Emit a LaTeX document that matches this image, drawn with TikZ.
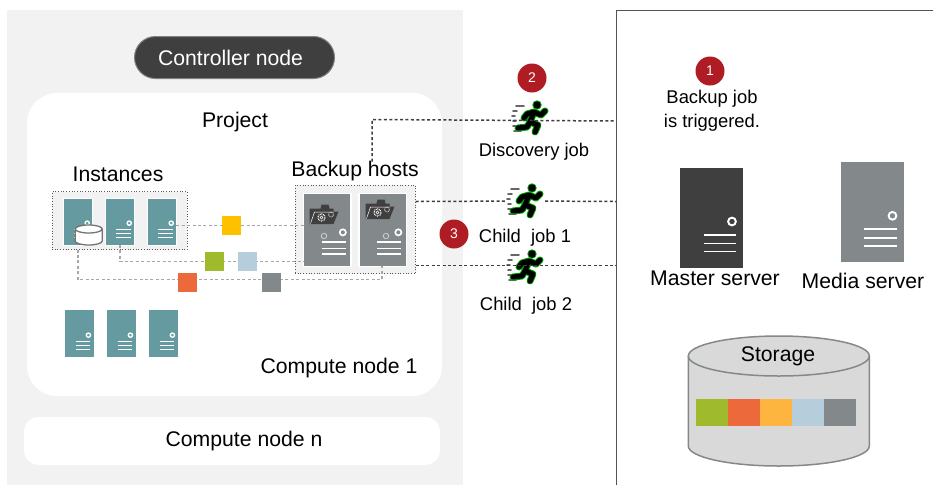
\documentclass[tikz,border=0pt]{standalone}
\usepackage{fontspec}
\setmainfont{Liberation Sans}
\usetikzlibrary{calc,positioning,shapes.misc}
\definecolor{panelgray}{HTML}{F2F2F2}
\definecolor{darkbox}{HTML}{3F3F3F}
\definecolor{hostgray}{HTML}{83898B}
\definecolor{tealbox}{HTML}{659BA0}
\definecolor{linkgray}{HTML}{A6A6A6}
\definecolor{badgered}{HTML}{B01C24}
\definecolor{amberbox}{HTML}{FFC000}
\definecolor{orangebar}{HTML}{FDB53F}
\definecolor{greenbox}{HTML}{9FBA2C}
\definecolor{redbox}{HTML}{EC693B}
\definecolor{bluebox}{HTML}{B6CEDC}
\tikzset{
  txt/.style={inner sep=0pt, outer sep=0pt, align=center, font=\fontsize{21.2}{24}\selectfont},
  smalltxt/.style={txt, font=\fontsize{18.4}{24}\selectfont},
  srv/.style n args={3}{rectangle, inner sep=0pt, outer sep=0pt, minimum width=#1pt, minimum height=#2pt, fill=#3,
    path picture={
      \begin{scope}[x=#1pt, y=#2pt, draw=white, line width={0.9pt+0.016*#1pt}]
        \draw (.325,-.035) circle[radius={0.6pt+0.052*#1pt}];
        \draw (-.12,-.17) -- (.39,-.17);
        \draw (-.12,-.255) -- (.39,-.255);
        \draw (-.12,-.335) -- (.39,-.335);
      \end{scope}}},
  inst/.style={srv={29}{47}{tealbox}, draw=white, line width=1pt},
  host/.style={srv={47.5}{73}{hostgray}, draw=white, line width=1.4pt},
  bigsrv/.style={srv={63}{100}{#1}},
  dotbox/.style={draw=black!65, dotted, fill=panelgray, line width=0.7pt, inner sep=0pt, outer sep=0pt},
  chunk/.style={fill=#1, inner sep=0pt, outer sep=0pt, minimum size=19pt},
  bar/.style={fill=#1, inner sep=0pt, outer sep=0pt, minimum width=31.6pt, minimum height=27pt},
  link/.style={draw=linkgray, line width=1.7pt, dash pattern=on 3pt off 2.4pt},
  job/.style={draw=darkbox, line width=1.5pt, dash pattern=on 3pt off 2.4pt},
  badge/.style={circle, fill=badgered, text=white, inner sep=0pt, outer sep=0pt, minimum size=29pt, font=\fontsize{14}{16}\selectfont},
  drum/.style n args={6}{rectangle, inner sep=0pt, outer sep=0pt, minimum width=#1pt+4pt, minimum height=#2pt+4pt,
    path picture={
      \draw[draw=#5, fill=#4, line width=#6pt] ({-#1/2},{-#2/2+#3}) -- ({-#1/2},{#2/2-#3})
        arc[start angle=180, end angle=360, x radius=#1/2*1pt, y radius=#3*1pt] -- ({#1/2},{-#2/2+#3})
        arc[start angle=0, end angle=180, x radius=#1/2*1pt, y radius=#3*1pt] -- cycle;
      \draw[draw=#5, line width=#6pt] ({-#1/2},{-#2/2+#3})
        arc[start angle=180, end angle=360, x radius=#1/2*1pt, y radius=#3*1pt];
    }},
  runner/.style={rectangle, inner sep=0pt, outer sep=0pt, minimum size=40pt,
    path picture={
      \begin{scope}[line cap=round, line join=round]
        \draw[black!60, line width=1.9pt] (-14,-12) -- (-6,-12) (-17,-7) -- (-13,-7) (-18,-2) -- (-15,-2)
          (-17,3) -- (-14,3) (-17,8) -- (-13,8) (-16,13) -- (-9,13);
        \foreach \wd/\col in {7/green!65!black, 5/black} {
          \draw[\col, line width=\wd pt] (4,-6) -- (0,4) (4,-6) -- (11,-3) -- (15,-7) (4,-6) -- (-3,-4) -- (-6,0)
            (0,4) -- (8,7) -- (5,14) (0,4) -- (-3,9) -- (-12,10);
          \fill[\col] (7,-13) circle[radius=\wd/2+1.2pt];
        }
      \end{scope}}},
  folder/.style={rectangle, inner sep=0pt, outer sep=0pt, minimum width=30pt, minimum height=20pt,
    path picture={
      \fill[darkbox] (-15,9.5) -- (-15,-6) -- (-4,-6) -- (-3,-10) -- (4,-10) -- (5,-6) -- (9,-6) -- (9,-3) -- (14,-3) -- (9,9.5) -- cycle;
      \draw[white, line width=0.5pt] (-10,-2.5) -- (9,-2.5) (-10,-2.5) -- (-14,9);
      \draw[white, line width=1.1pt, dash pattern=on 0.8pt off 0.8pt] (-3,3) circle[radius=3.6pt];
      \draw[white, line width=0.5pt] (-3,3) circle[radius=1.5pt];
      \draw[white!70!darkbox, line width=0.9pt, dash pattern=on 0.7pt off 0.7pt] (6.5,0) circle[radius=2.5pt];
    }},
  smallgear/.style={circle, draw=white!70!hostgray, line width=0.9pt, dash pattern=on 0.7pt off 0.5pt, inner sep=0pt, minimum size=5.5pt}
}
\begin{document}
\begin{tikzpicture}[x=1pt, y=-1pt, node distance=0pt]
  \useasboundingbox (0,0) rectangle (933,485);

  % panels
  \fill[panelgray] (7,10) rectangle (463,485);
  \fill[white, rounded corners=30pt] (27,93) rectangle (442,396);
  \node[txt, fill=white, rounded corners=15pt, minimum width=416pt, minimum height=48pt] (computen) at (232,441) {\hspace{24pt}\raisebox{-1pt}{Compute node n}};
  \draw[darkbox!90, line width=1pt] (616,485) -- (616,10) -- (933,10);
  \coordinate (walla) at (616,121);
  \coordinate (wallb) at (616,201.5);
  \coordinate (wallc) at (616,265.5);

  \node[txt, text=white, fill=darkbox, draw=black!50, line width=1pt, rounded rectangle, minimum width=200pt, minimum height=42pt] (controller) at (234.5,57.5) {Controller node\hspace{8pt}};
  \node[txt] (project) at (235,122) {Project};
  \node[txt] (compute1) at (339,368) {Compute node 1};

  % instances
  \node[dotbox, minimum width=135pt, minimum height=58pt] (instbox) at (119.5,220.5) {};
  \node[txt] (insttitle) at (118,174) {Instances};
  \node[inst] (insta) at (77.8,221.5) {};
  \node[inst, right=13pt of insta] (instb) {};
  \node[inst, right=13pt of instb] (instc) {};
  \node[inst, draw=none] (instd) at (79,333.5) {};
  \node[inst, draw=none, right=13pt of instd] (inste) {};
  \node[inst, draw=none, right=13pt of inste] (instf) {};
  \node[drum={27}{20}{4}{white}{black!55}{1.3}] (disk) at (88.7,235) {};

  % backup hosts
  \node[dotbox, minimum width=120.5pt, minimum height=88.5pt] (hostbox) at (355.3,229.5) {};
  \node[txt] (hosttitle) at (355,171.5) {Backup hosts};
  \node[host] (hosta) at (327.4,229.8) {};
  \node[host, right=8pt of hosta] (hostb) {};
  \node[folder] (foldera) at (324.5,214.5) {};
  \node[folder] (folderb) at (380.5,209.5) {};
  \node[smallgear] (geara) at (324,236) {};
  \node[smallgear] (gearb) at (386,236) {};

  % links between instances and hosts
  \coordinate (turnb) at (instb.south |- 0,261.5);
  \coordinate (turnd) at (insta.south |- 0,279.5);
  \coordinate (turne) at (382,279.5);
  \draw[link] (instc.east |- 0,225.5) -- (hosta.west |- 0,225.5);
  \draw[link] (instb.south) -- (turnb) -- (hosta.west |- turnb);
  \draw[link] (instbox.south -| insta) -- (turnd) -- (turne) -- (turne |- hostb.south);

  % chunks on the links
  \node[chunk=amberbox] (chunka) at (231.5,225.5) {};
  \node[chunk=greenbox] (chunkb) at (214.5,261.5) {};
  \node[chunk=bluebox] (chunkc) at (247.5,261.5) {};
  \node[chunk=redbox] (chunkd) at (187.5,282.5) {};
  \node[chunk=hostgray] (chunke) at (271.5,282.5) {};

  % jobs
  \node[runner] (runa) at (530,118) {};
  \node[runner] (runb) at (525,201) {};
  \node[runner] (runc) at (525,267) {};
  \node[smalltxt] (joba) at (534,151.5) {Discovery job};
  \node[smalltxt] (jobb) at (525,237.5) {Child\ \ job 1};
  \node[smalltxt] (jobc) at (526,305.5) {Child\ \ job 2};
  \node[badge] (steptwo) at (532,78) {2};
  \node[badge] (stepthree) at (454,234) {3};
  \node[badge] (stepone) at (710,71) {1};
  \node[smalltxt] (trigger) at (712,110.5) {Backup job\\is triggered.};

  \coordinate (turna) at (372,119.5);
  \draw[job] (hosttitle.north -| turna) -- (turna) -- (walla);
  \draw[job] (hostbox.east |- wallb) -- (runb);
  \draw[job] (runb) -- (wallb);
  \draw[job] (hostbox.east |- wallc) -- (wallc);

  % servers and storage
  \node[bigsrv=darkbox] (master) at (711.5,218) {};
  \node[bigsrv=hostgray] (media) at (872,212.3) {};
  \node[txt] (mastertxt) at (715,278) {Master server};
  \node[txt] (mediatxt) at (863,281) {Media server};
  \node[drum={181}{130}{20}{black!15}{hostgray}{1.5}] (storage) at (778.8,401) {};
  \node[txt] (storagetxt) at (778,356.5) {Storage};
  \node[bar=greenbox] (bara) at (711.8,412.5) {};
  \node[bar=redbox, right=0.4pt of bara] (barb) {};
  \node[bar=orangebar, right=0.4pt of barb] (barc) {};
  \node[bar=bluebox, right=0.4pt of barc] (bard) {};
  \node[bar=hostgray, right=0.4pt of bard] (bare) {};
\end{tikzpicture}
\end{document}
